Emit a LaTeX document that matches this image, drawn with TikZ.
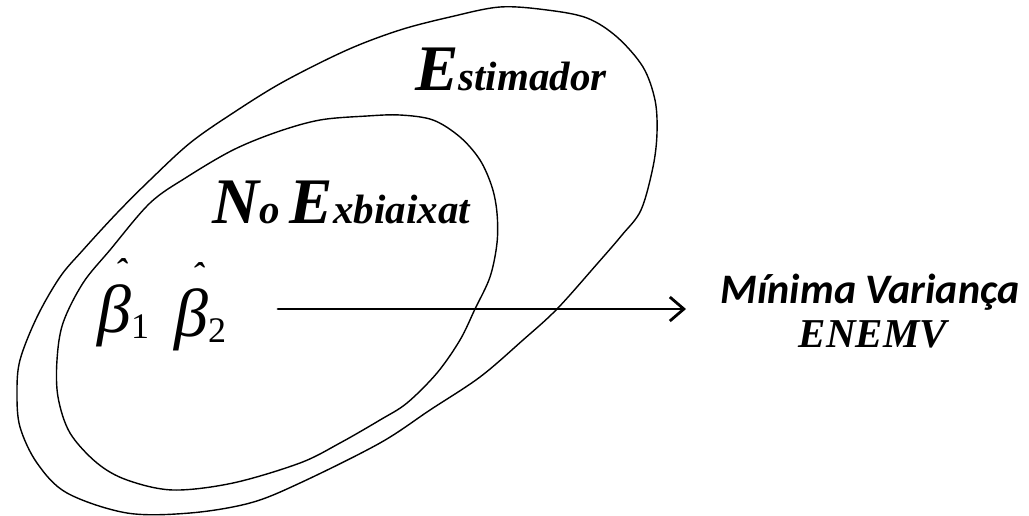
\documentclass[tikz,border=0pt]{standalone}
\usepackage{fontspec}
\setmainfont{Liberation Serif}
\newfontfamily\timesfont{Liberation Serif}
\newfontfamily\calibfont{Carlito}
\usetikzlibrary{arrows.meta}
\newcommand{\biginit}[1]{{\fontsize{65}{65}\selectfont#1}}
\newcommand{\smallrest}[1]{{\fontsize{41}{41}\selectfont#1}}
\newcommand{\betahat}[1]{\ooalign{β\cr\hidewidth\kern14pt\raise50pt\hbox{\bfseries\fontsize{34}{34}\selectfont ˆ}\hidewidth\cr}\raisebox{-6pt}{\fontsize{36}{36}\selectfont\upshape#1}}

\begin{document}
\begin{tikzpicture}[x=1pt,y=-1pt,line join=round,line cap=round,
  rim/.style={line width=1.4pt},
  word/.style={font=\timesfont\bfseries\itshape,inner sep=0pt},
  est/.style={font=\timesfont\itshape\fontsize{68}{68}\selectfont,inner sep=0pt},
  side/.style={font=\calibfont\bfseries\itshape\fontsize{42}{42}\selectfont,inner sep=0pt},
  arr/.style={-{Straight Barb[length=14pt,width=24pt]},line width=2.8pt}]
  \useasboundingbox (0,0) rectangle (1029,515);

  % ===== the two sets =====
  % outer set (estimators)
  \draw[rim] plot[smooth cycle,tension=0.55] coordinates {
    (500,7) (547,10) (587,18) (617,37) (643,67) (655,100) (657,133)
    (653,167) (641,210) (622,235) (597,264) (557,309) (523,340) (480,377)
    (430,410) (380,443) (300,483) (250,503) (190,513) (127,513) (67,493)
    (37,463) (20,427) (17,393) (20,360) (37,317) (60,277) (83,250)
    (117,213) (150,180) (190,143) (233,113) (283,82) (347,50) (400,30)
    (450,17)};
  % inner set (unbiased)
  \draw[rim] plot[smooth cycle,tension=0.55] coordinates {
    (367,116) (400,115) (433,120) (460,137) (480,160) (492,187) (497,213)
    (497,243) (490,277) (475,309) (460,340) (437,373) (407,403) (380,420)
    (340,443) (300,463) (233,483) (173,490) (127,480) (97,463) (70,433)
    (58,397) (57,360) (63,323) (83,283) (110,250) (150,203) (187,177)
    (233,150) (277,132) (320,120)};

  % ===== labels =====
  \node[word,anchor=base west] (estim) at (415,90) {\biginit{E}\smallrest{stimador}};
  \node[word,anchor=base west] (unbias) at (212,223) {\biginit{N}\smallrest{o }\biginit{E}\smallrest{xbiaixat}};
  \node[est,anchor=base west] (beta1) at (97,332) {\betahat{1}};
  \node[est,anchor=base west] (beta2) at (174,336) {\betahat{2}};

  % ===== arrow to the minimum variance =====
  \coordinate (from) at (278,309);
  \coordinate (to) at (686,309);
  \draw[arr] (from) -- (to);
  \node[side,anchor=base] (minvar) at (870,303) {Mínima Variança};
  \node[word,anchor=base] (enemv) at (873,347) {\smallrest{ENEMV}};
\end{tikzpicture}
\end{document}
